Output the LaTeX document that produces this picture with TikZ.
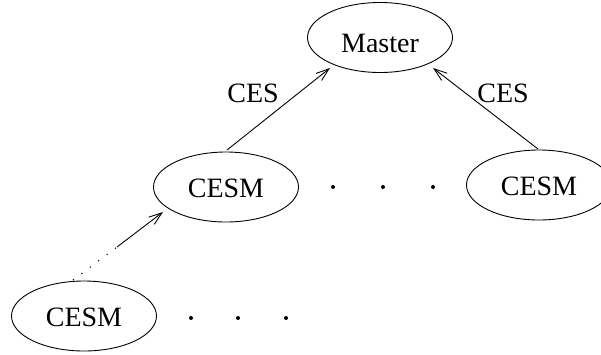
\documentclass[tikz,border=0pt]{standalone}
\usepackage{fontspec}
\setmainfont{Liberation Serif}
\usetikzlibrary{shapes.geometric,arrows.meta,calc}
\begin{document}
\begin{tikzpicture}[x=1pt,y=-1pt,
  blob/.style={draw,ellipse,minimum width=145pt,minimum height=70pt,inner sep=0pt,line width=0.9pt,font=\fontsize{28}{30}\selectfont,text height=21.5pt,text depth=0pt},
  lbl/.style={font=\fontsize{28}{30}\selectfont,inner sep=0pt},
  conn/.style={line width=0.9pt,-{Straight Barb[length=13pt,width=9pt,line width=0.9pt]}},
  dot/.style={fill=black}]
\useasboundingbox (0,0) rectangle (601,354);
\clip (0,0) rectangle (601,354);
\node[blob,text height=30pt] (m) at (380,37.5) {Master};
\node[blob] (c1) at (226,187) {CESM};
\node[blob] (c2) at (539,185) {CESM};
\node[blob] (c3) at (84,316) {CESM};
\node[lbl] (l1) at (253,93) {CES};
\node[lbl] (l2) at (503,93) {CES};
\draw[conn] ($(c1)+(1,-37)$) -- ($(m)+(-50,30.5)$);
\draw[conn] ($(c2)+(-1,-36)$) -- ($(m)+(53,30.5)$);
\draw[line width=1pt,dash pattern=on 1.2pt off 9.3pt] ($(c3)+(-11,-36)$) -- ($(c1)+(-109,60)$) coordinate (k);
\draw[conn] (k) -- ($(c1)+(-63,25)$);
\foreach \x in {333,383,433} \fill[dot] (\x,187) circle (2pt);
\foreach \x in {191,238,286} \fill[dot] (\x,318) circle (2pt);
\end{tikzpicture}
\end{document}
